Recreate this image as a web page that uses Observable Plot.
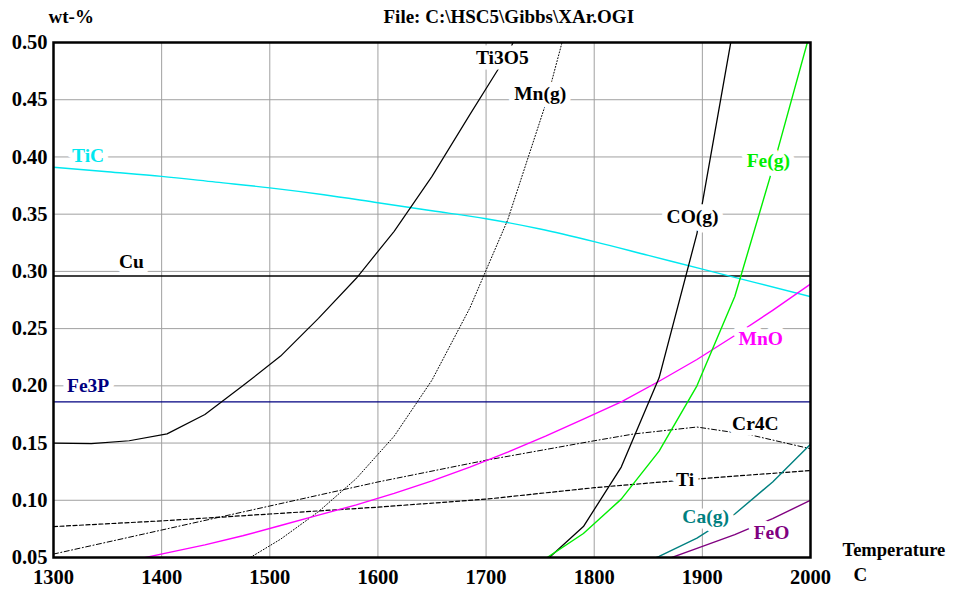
<!DOCTYPE html>
<html><head><meta charset="utf-8">
<script src="https://cdn.jsdelivr.net/npm/d3@7"></script>
<script src="https://cdn.jsdelivr.net/npm/@observablehq/plot@0.6"></script>
<style>body{margin:0;background:#fff} #chart svg{display:block}</style>
</head><body><div id="chart"></div>
<script>
// ---- data ----
const xTicks = [1300, 1400, 1500, 1600, 1700, 1800, 1900, 2000];
const yTicks = [0.05, 0.10, 0.15, 0.20, 0.25, 0.30, 0.35, 0.40, 0.45, 0.50];

const ti3o5T = [1300, 1335, 1370, 1405, 1440, 1475, 1510, 1545, 1580, 1615, 1650, 1685, 1720, 1755];
const ti3o5V = [0.150, 0.1495, 0.152, 0.158, 0.175, 0.200, 0.226, 0.259, 0.294, 0.335, 0.383, 0.437, 0.490, 0.560];

const mngT = [1475, 1510, 1545, 1580, 1615, 1650, 1685, 1720, 1755, 1790];
const mngV = [0.046, 0.066, 0.090, 0.119, 0.156, 0.205, 0.268, 0.345, 0.446, 0.570];

const ticT = [1300, 1350, 1400, 1450, 1500, 1550, 1600, 1650, 1700, 1750, 1800, 1850, 1900, 1950, 2000];
const ticV = [0.391, 0.387, 0.383, 0.378, 0.373, 0.367, 0.360, 0.353, 0.346, 0.337, 0.326, 0.314, 0.302, 0.290, 0.278];

const cuValue = 0.296;
const fe3pValue = 0.186;

const coT = [1755, 1790, 1825, 1860, 1895, 1930];
const coV = [0.047, 0.077, 0.129, 0.207, 0.333, 0.520];

const fegT = [1755, 1790, 1825, 1860, 1895, 1930, 1965, 2000];
const fegV = [0.049, 0.071, 0.101, 0.143, 0.200, 0.278, 0.390, 0.510];

const mnoT = [1370, 1405, 1440, 1475, 1510, 1545, 1580, 1615, 1650, 1685, 1720, 1755, 1790, 1825, 1860, 1895, 1930, 1965, 2000];
const mnoV = [0.047, 0.054, 0.061, 0.069, 0.078, 0.087, 0.096, 0.106, 0.117, 0.129, 0.142, 0.156, 0.171, 0.186, 0.204, 0.223, 0.244, 0.266, 0.289];

const cr4cT = [1300, 1400, 1500, 1600, 1700, 1800, 1837, 1895, 1945, 2000];
const cr4cV = [0.053, 0.074, 0.095, 0.116, 0.135, 0.152, 0.158, 0.164, 0.157, 0.145];

const tiT = [1300, 1400, 1500, 1600, 1700, 1800, 1900, 2000];
const tiV = [0.077, 0.082, 0.088, 0.094, 0.101, 0.111, 0.119, 0.126];

const cagT = [1825, 1860, 1895, 1930, 1965, 2000];
const cagV = [0.037, 0.051, 0.067, 0.088, 0.116, 0.149];

const feoT = [1860, 1895, 1930, 1965, 2000];
const feoV = [0.046, 0.058, 0.070, 0.084, 0.100];

const labelNames = ["Ti3O5", "Mn(g)", "TiC", "Cu", "Fe3P", "CO(g)", "Fe(g)", "MnO", "Cr4C", "Ti", "Ca(g)", "FeO"];
const labelT = [1715, 1750, 1332, 1372, 1332, 1891, 1961, 1954, 1949, 1884, 1903, 1964];
const labelV = [0.4865, 0.455, 0.401, 0.3085, 0.2003, 0.3478, 0.3967, 0.2413, 0.1671, 0.1182, 0.0859, 0.0719];

const yTitle = "wt-%";
const fileTitle = "File: C:\\HSC5\\Gibbs\\XAr.OGI";
const xTitle = "Temperature";
const xUnit = "C";

// ---- styles ----
const colors = {
  "Ti3O5": "black", "Mn(g)": "black", "TiC": "#00e8f0", "Cu": "black", "Fe3P": "#000080",
  "CO(g)": "black", "Fe(g)": "#00ee00", "MnO": "#ff00ff", "Cr4C": "black", "Ti": "black",
  "Ca(g)": "#008080", "FeO": "#800080"
};

const rows = (T, V) => T.map((t, i) => ({T: t, v: V[i]}));
const labels = labelNames.map((n, i) => ({name: n, T: labelT[i], v: labelV[i]}));

const lineOpts = (name, extra = {}) => Object.assign({x: "T", y: "v", stroke: colors[name], strokeWidth: 1.2, clip: true}, extra);

const font = "'Liberation Serif', 'Times New Roman', serif";

const chart = Plot.plot({
  width: 953,
  height: 597,
  marginLeft: 53,
  marginRight: 143,
  marginTop: 42,
  marginBottom: 40,
  x: {domain: [1300, 2000]},
  y: {domain: [0.05, 0.50]},
  style: {fontFamily: font, fontWeight: "bold", fontSize: "20px", background: "white", color: "black", overflow: "visible"},
  marks: [
    Plot.gridX(xTicks, {stroke: "#a0a0a0", strokeOpacity: 1, strokeWidth: 1}),
    Plot.gridY(yTicks, {stroke: "#a0a0a0", strokeOpacity: 1, strokeWidth: 1}),
    Plot.axisX(xTicks, {tickSize: 0, tickPadding: 12, label: null, tickFormat: d => String(d), fontSize: 20.5}),
    Plot.axisY(yTicks, {tickSize: 0, tickPadding: 6, label: null, tickFormat: d3.format(".2f"), dy: 0, fontSize: 20.5}),
    Plot.ruleY([cuValue], {stroke: "black", strokeWidth: 1.5}),
    Plot.ruleY([fe3pValue], {stroke: colors["Fe3P"], strokeWidth: 1.4}),
    Plot.line(rows(ticT, ticV), lineOpts("TiC", {strokeWidth: 1.4, curve: "monotone-x"})),
    Plot.line(rows(tiT, tiV), lineOpts("Ti", {strokeDasharray: "4,2.5"})),
    Plot.line(rows(cr4cT, cr4cV), lineOpts("Cr4C", {strokeDasharray: "5,2.5,1,2.5", strokeWidth: 1})),
    Plot.line(rows(mngT, mngV), lineOpts("Mn(g)", {strokeDasharray: "1,2", strokeWidth: 1})),
    Plot.line(rows(mnoT, mnoV), lineOpts("MnO", {strokeWidth: 1.4})),
    Plot.line(rows(ti3o5T, ti3o5V), lineOpts("Ti3O5")),
    Plot.line(rows(coT, coV), lineOpts("CO(g)", {strokeWidth: 1.3})),
    Plot.line(rows(fegT, fegV), lineOpts("Fe(g)", {strokeWidth: 1.4})),
    Plot.line(rows(cagT, cagV), lineOpts("Ca(g)", {strokeWidth: 1.4})),
    Plot.line(rows(feoT, feoV), lineOpts("FeO", {strokeWidth: 1.4})),
    Plot.text(labels, {x: "T", y: "v", text: "name", fill: d => colors[d.name], stroke: "white", strokeWidth: 11, fontSize: 19.5, fontWeight: "bold"}),
    Plot.frame({stroke: "black", strokeWidth: 2.5}),
    Plot.text([yTitle], {frameAnchor: "top-left", dx: -5, dy: -20, textAnchor: "start", lineAnchor: "bottom", fontSize: 19}),
    Plot.text([fileTitle], {frameAnchor: "top-left", dx: 330, dy: -20, textAnchor: "start", lineAnchor: "bottom", fontSize: 19}),
    Plot.text([xTitle], {frameAnchor: "bottom-right", dx: 32, dy: -2, textAnchor: "start", lineAnchor: "bottom", fontSize: 18.5}),
    Plot.text([xUnit], {frameAnchor: "bottom-right", dx: 43, dy: 23, textAnchor: "start", lineAnchor: "bottom", fontSize: 19})
  ]
});
document.getElementById("chart").append(chart);
</script>
</body></html>
